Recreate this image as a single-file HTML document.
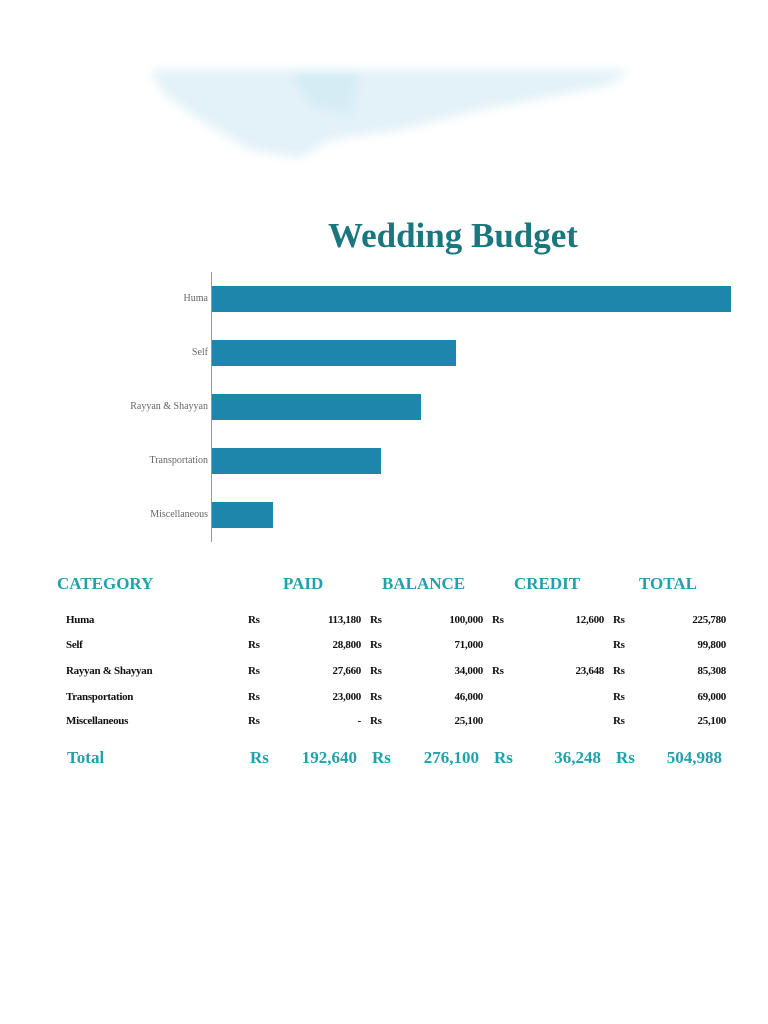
<!DOCTYPE html>
<html><head><meta charset="utf-8"><style>
body{margin:0;width:768px;height:1024px;background:#fff;position:relative;overflow:hidden;font-family:"Liberation Serif",serif}
.a{position:absolute;white-space:nowrap}
.h{color:#23a0ab;font-weight:bold;font-size:17px}
.r{font-size:11px;font-weight:bold;color:#111;letter-spacing:-0.3px}
.t{color:#23a0ab;font-weight:bold;font-size:17px}
.lab{font-size:10px;color:#666;text-align:right;width:200px;left:8px}
.bar{position:absolute;left:212px;height:26px;background:#1f86ab}
</style></head><body>
<svg class="a" style="left:0;top:0" width="768" height="180">
<defs><filter id="b"><feGaussianBlur stdDeviation="5"/></filter></defs>
<g filter="url(#b)">
<path d="M150,70 L630,70 L610,85 L560,95 L480,110 L400,130 L330,140 L300,158 L250,150 L200,120 L165,95 Z" fill="#e3f2f8"/>
<path d="M290,72 L360,72 L350,115 L310,105Z" fill="#d5ecf5"/>
</g></svg>
<div class="a" style="left:328px;top:216px;font-size:35px;font-weight:bold;color:#1a777e">Wedding Budget</div>
<div class="a" style="left:211px;top:272px;width:1px;height:270px;background:#999"></div>
<div class="bar" style="top:286px;width:519px"></div>
<div class="bar" style="top:340px;width:244px"></div>
<div class="bar" style="top:394px;width:209px"></div>
<div class="bar" style="top:448px;width:169px"></div>
<div class="bar" style="top:502px;width:61px"></div>
<div class="a lab" style="top:293px">Huma</div>
<div class="a lab" style="top:347px">Self</div>
<div class="a lab" style="top:401px">Rayyan &amp; Shayyan</div>
<div class="a lab" style="top:455px">Transportation</div>
<div class="a lab" style="top:509px">Miscellaneous</div>
<div class="a h" style="left:57px;top:574px">CATEGORY</div>
<div class="a h" style="left:283px;top:574px">PAID</div>
<div class="a h" style="left:382px;top:574px">BALANCE</div>
<div class="a h" style="left:514px;top:574px">CREDIT</div>
<div class="a h" style="left:639px;top:574px">TOTAL</div>
<div id="rows"></div>
<script>
var d=[["Huma","113,180","100,000","12,600","225,780"],["Self","28,800","71,000","","99,800"],["Rayyan &amp; Shayyan","27,660","34,000","23,648","85,308"],["Transportation","23,000","46,000","","69,000"],["Miscellaneous","-","25,100","","25,100"]];
var ys=[614,639,665,691,715],h="";
var rs=[248,370,492,613],re=[361,483,604,726];
d.forEach(function(r,i){var y=ys[i];h+='<div class="a r" style="left:66px;top:'+y+'px">'+r[0]+'</div>';
for(var k=0;k<4;k++){if(r[k+1]!==""){h+='<div class="a r" style="left:'+rs[k]+'px;top:'+y+'px">Rs</div>';h+='<div class="a r" style="right:'+(768-re[k])+'px;top:'+y+'px">'+r[k+1]+'</div>';}}});
var tv=["192,640","276,100","36,248","504,988"],trs=[250,372,494,616],tre=[357,479,601,722];
h+='<div class="a t" style="left:67px;top:748px">Total</div>';
for(var k=0;k<4;k++){h+='<div class="a t" style="left:'+trs[k]+'px;top:748px">Rs</div><div class="a t" style="right:'+(768-tre[k])+'px;top:748px">'+tv[k]+'</div>';}
document.getElementById('rows').innerHTML=h;
</script>
</body></html>
